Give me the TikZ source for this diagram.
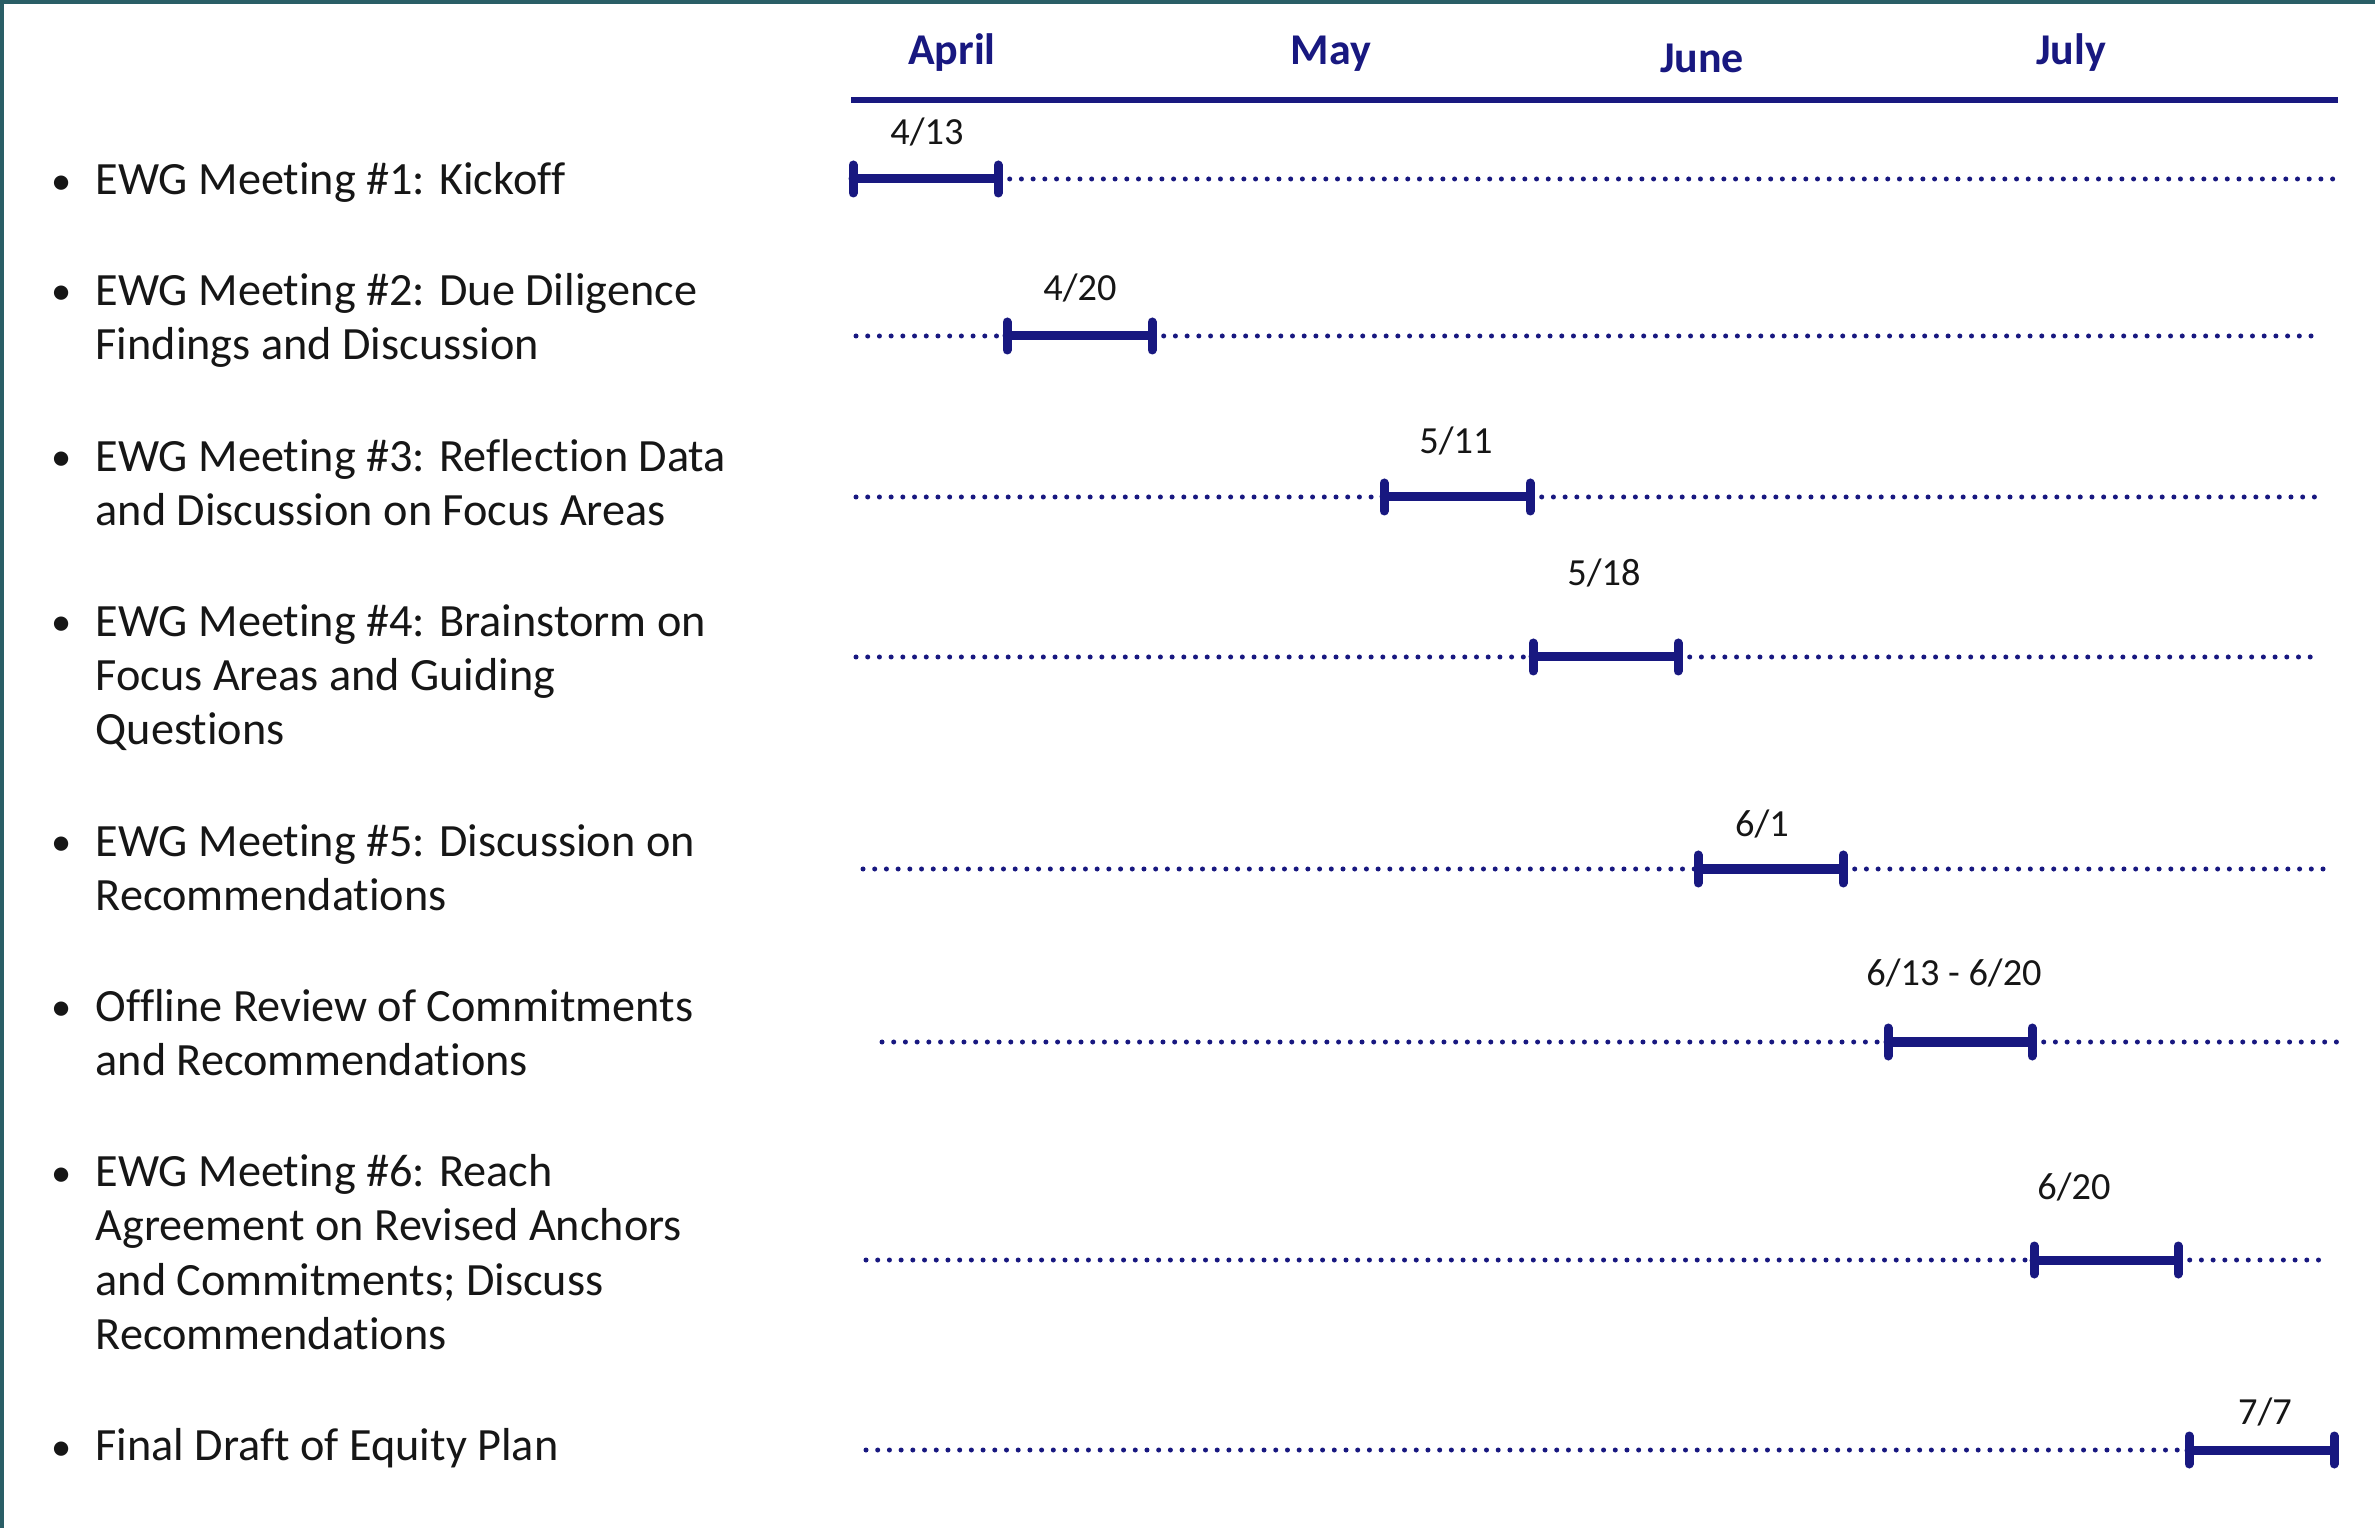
\documentclass[tikz,border=0pt]{standalone}
\usepackage{fontspec}
\setmainfont{Carlito}[Ligatures=NoCommon]

\definecolor{navy}{RGB}{24,24,128}
\definecolor{edge}{RGB}{42,94,102}
\definecolor{ink}{RGB}{22,22,22}

\tikzset{
  itemtext/.style={anchor=base west, inner sep=0pt, align=left, text=ink,
    font=\fontsize{13.15}{15.45}\selectfont},
  bulletmark/.style={anchor=base, inner sep=0pt, text=ink,
    font=\fontsize{11.5}{15.45}\selectfont},
  monthlabel/.style={anchor=base, inner sep=0pt, text=navy,
    font=\fontsize{12.5}{15}\selectfont\bfseries},
  datelabel/.style={anchor=base, inner sep=0pt, text=ink,
    font=\fontsize{10.9}{13}\selectfont},
  barline/.style={draw=navy, line width=0.09cm, line cap=round},
  endtick/.style={draw=navy, line width=0.09cm, line cap=round},
  dotline/.style={draw=navy, line width=0.05cm, line cap=round,
    dash pattern=on 0pt off 0.117cm},
}

\begin{document}
\begin{tikzpicture}[x=0.01cm, y=-0.01cm]

\newcommand\TICK{14}
% multi-line items sit on the baseline of their last line
\newcommand\LN{54.5}

\useasboundingbox (0,0) rectangle (2375,1528);
\fill[white] (0,0) rectangle (2375,1528);
\fill[edge] (0,0) rectangle (2375,4);
\fill[edge] (0,0) rectangle (4,1528);

%% months
\node[monthlabel] (apr) at (952,65) {April};
\node[monthlabel] (may) at (1331,65) {May};
\node[monthlabel] (jun) at (1702,73) {June};
\node[monthlabel] (jul) at (2071,65) {July};
\coordinate (axisL) at (851,100);
\coordinate (axisR) at (2338,100);
\draw[navy, line width=0.06cm] (axisL) -- (axisR);

%% list on the left
\node[bulletmark] (b1) at (62,195) {\textbullet};
\node[itemtext] (t1) at (95,195) {EWG Meeting \#1: Kickoff};
\node[bulletmark] (b2) at (62,305) {\textbullet};
\node[itemtext] (t2) at (95,305+\LN) {EWG Meeting \#2: Due Diligence\\Findings and Discussion};
\node[bulletmark] (b3) at (62,471) {\textbullet};
\node[itemtext] (t3) at (95,471+\LN) {EWG Meeting \#3: Reflection Data\\and Discussion on Focus Areas};
\node[bulletmark] (b4) at (62,636) {\textbullet};
\node[itemtext] (t4) at (95,636+2*\LN) {EWG Meeting \#4: Brainstorm on\\Focus Areas and Guiding\\Questions};
\node[bulletmark] (b5) at (62,856) {\textbullet};
\node[itemtext] (t5) at (95,856+\LN) {EWG Meeting \#5: Discussion on\\Recommendations};
\node[bulletmark] (b6) at (62,1021) {\textbullet};
\node[itemtext] (t6) at (95,1021+\LN) {Offline Review of Commitments\\and Recommendations};
\node[bulletmark] (b7) at (62,1186) {\textbullet};
\node[itemtext] (t7) at (95,1186+3*\LN) {EWG Meeting \#6: Reach\\Agreement on Revised Anchors\\and Commitments; Discuss\\Recommendations};
\node[bulletmark] (b8) at (62,1460) {\textbullet};
\node[itemtext] (t8) at (95,1460) {Final Draft of Equity Plan};

%% row 1
\coordinate (a1) at (853,179);
\coordinate (z1) at (998,179);
\coordinate (e1) at (2334,179);
\draw[dotline] (z1) -- (e1);
\draw[barline] (a1) -- (z1);
\draw[endtick] (a1) ++(0,-\TICK) -- ++(0,2*\TICK);
\draw[endtick] (z1) ++(0,-\TICK) -- ++(0,2*\TICK);
\node[datelabel] (d1) at (927,145) {4/13};

%% row 2
\coordinate (s2) at (856,336);
\coordinate (a2) at (1007,336);
\coordinate (z2) at (1152,336);
\coordinate (e2) at (2318,336);
\draw[dotline] (s2) -- (a2);
\draw[dotline] (z2) -- (e2);
\draw[barline] (a2) -- (z2);
\draw[endtick] (a2) ++(0,-\TICK) -- ++(0,2*\TICK);
\draw[endtick] (z2) ++(0,-\TICK) -- ++(0,2*\TICK);
\node[datelabel] (d2) at (1080,301) {4/20};

%% row 3
\coordinate (s3) at (856,497);
\coordinate (a3) at (1384,497);
\coordinate (z3) at (1530,497);
\coordinate (e3) at (2318,497);
\draw[dotline] (s3) -- (a3);
\draw[dotline] (z3) -- (e3);
\draw[barline] (a3) -- (z3);
\draw[endtick] (a3) ++(0,-\TICK) -- ++(0,2*\TICK);
\draw[endtick] (z3) ++(0,-\TICK) -- ++(0,2*\TICK);
\node[datelabel] (d3) at (1456,454) {5/11};

%% row 4
\coordinate (s4) at (856,657);
\coordinate (a4) at (1533,657);
\coordinate (z4) at (1678,657);
\coordinate (e4) at (2318,657);
\draw[dotline] (s4) -- (a4);
\draw[dotline] (z4) -- (e4);
\draw[barline] (a4) -- (z4);
\draw[endtick] (a4) ++(0,-\TICK) -- ++(0,2*\TICK);
\draw[endtick] (z4) ++(0,-\TICK) -- ++(0,2*\TICK);
\node[datelabel] (d4) at (1604,586) {5/18};

%% row 5
\coordinate (s5) at (863,869);
\coordinate (a5) at (1698,869);
\coordinate (z5) at (1843,869);
\coordinate (e5) at (2327,869);
\draw[dotline] (s5) -- (a5);
\draw[dotline] (z5) -- (e5);
\draw[barline] (a5) -- (z5);
\draw[endtick] (a5) ++(0,-\TICK) -- ++(0,2*\TICK);
\draw[endtick] (z5) ++(0,-\TICK) -- ++(0,2*\TICK);
\node[datelabel] (d5) at (1762,837) {6/1};

%% row 6
\coordinate (s6) at (882,1042);
\coordinate (a6) at (1888,1042);
\coordinate (z6) at (2032,1042);
\coordinate (e6) at (2345,1042);
\draw[dotline] (s6) -- (a6);
\draw[dotline] (z6) -- (e6);
\draw[barline] (a6) -- (z6);
\draw[endtick] (a6) ++(0,-\TICK) -- ++(0,2*\TICK);
\draw[endtick] (z6) ++(0,-\TICK) -- ++(0,2*\TICK);
\node[datelabel] (d6) at (1954,985) {6/13 - 6/20};

%% row 7
\coordinate (s7) at (866,1260);
\coordinate (a7) at (2034,1260);
\coordinate (z7) at (2178,1260);
\coordinate (e7) at (2330,1260);
\draw[dotline] (s7) -- (a7);
\draw[dotline] (z7) -- (e7);
\draw[barline] (a7) -- (z7);
\draw[endtick] (a7) ++(0,-\TICK) -- ++(0,2*\TICK);
\draw[endtick] (z7) ++(0,-\TICK) -- ++(0,2*\TICK);
\node[datelabel] (d7) at (2074,1199) {6/20};

%% row 8
\coordinate (s8) at (866,1450);
\coordinate (a8) at (2189,1450);
\coordinate (z8) at (2334,1450);
\draw[dotline] (s8) -- (a8);
\draw[barline] (a8) -- (z8);
\draw[endtick] (a8) ++(0,-\TICK) -- ++(0,2*\TICK);
\draw[endtick] (z8) ++(0,-\TICK) -- ++(0,2*\TICK);
\node[datelabel] (d8) at (2265,1424) {7/7};

\end{tikzpicture}
\end{document}
